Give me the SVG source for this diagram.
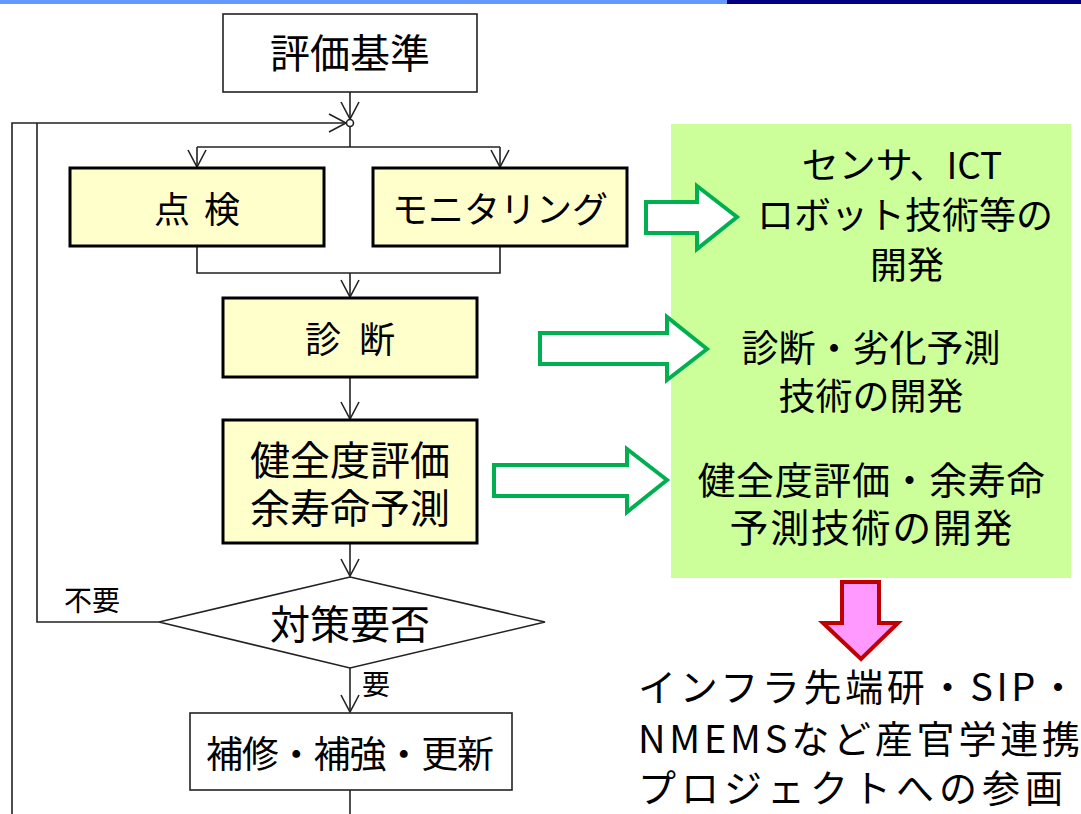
<svg xmlns="http://www.w3.org/2000/svg" width="1081" height="814" viewBox="0 0 1081 814">
<style>
text{font-family:"Noto Sans CJK JP","Noto Sans",sans-serif;fill:#000}
.c{text-anchor:middle}
.wbox{fill:#fff;stroke:#222;stroke-width:1.6}
.ybox{fill:#FFFFCC;stroke:#000;stroke-width:3}
.ln{fill:none;stroke:#222;stroke-width:1.6}
.ga{fill:#fff;stroke:#00B050;stroke-width:4}
.pa{fill:#FF99FF;stroke:#C00000;stroke-width:4}
</style>
<defs>
<marker id="v" viewBox="-19 -11 22 22" refX="0" refY="0" markerWidth="22" markerHeight="22" markerUnits="userSpaceOnUse" orient="auto">
<path d="M-17,-9 L0,0 L-17,9" fill="none" stroke="#222" stroke-width="1.6"/>
</marker>
</defs>
<rect x="0" y="0" width="727" height="4" fill="#6699FF"/>
<rect x="727" y="0" width="354" height="4" fill="#000080"/>

<g id="panel">
<rect x="671" y="124" width="400" height="454" fill="#CCFF99"/>
</g>

<g id="connectors">
<path class="ln" d="M350,92 V119" marker-end="url(#v)"/>
<path class="ln" d="M12,814 V123 H346" marker-end="url(#v)"/>
<path class="ln" d="M159,622 H37 V123"/>
<path class="ln" d="M350,126.5 V147"/>
<path class="ln" d="M197,147 H500"/>
<path class="ln" d="M197,147 V167" marker-end="url(#v)"/>
<path class="ln" d="M500,147 V167" marker-end="url(#v)"/>
<path class="ln" d="M197,247 V273 H500 V247"/>
<path class="ln" d="M350,273 V297" marker-end="url(#v)"/>
<path class="ln" d="M350,378 V419" marker-end="url(#v)"/>
<path class="ln" d="M350,544 V576" marker-end="url(#v)"/>
<path class="ln" d="M350,668 V712" marker-end="url(#v)"/>
<path class="ln" d="M350,790 V814"/>
</g>
<circle cx="350" cy="123" r="3.5" fill="#fff" stroke="#222" stroke-width="1.6"/>

<g id="kijun">
<rect class="wbox" x="223" y="14" width="254" height="78"/>
<text class="c" x="350" y="68" font-size="40">評価基準</text>
</g>
<g id="tenken">
<rect class="ybox" x="70" y="168" width="254" height="78"/>
<text class="c" x="197" y="223" font-size="36" textLength="86">点 検</text>
</g>
<g id="monitoring">
<rect class="ybox" x="373" y="168" width="254" height="78"/>
<text class="c" x="500" y="223" font-size="36">モニタリング</text>
</g>
<g id="shindan">
<rect class="ybox" x="223" y="298" width="254" height="79"/>
<text class="c" x="350" y="353" font-size="36" textLength="90">診 断</text>
</g>
<g id="kenzendo">
<rect class="ybox" x="223" y="420" width="254" height="123"/>
<text class="c" x="350" y="475" font-size="40">健全度評価</text>
<text class="c" x="350" y="523" font-size="40">余寿命予測</text>
</g>
<g id="taisaku">
<polygon class="wbox" points="350,577 545,622 350,668 159,622"/>
<text class="c" x="350" y="639" font-size="40">対策要否</text>
<text x="64" y="611" font-size="28">不要</text>
<text x="362" y="695" font-size="28">要</text>
</g>
<g id="hoshu">
<rect class="wbox" x="190" y="713" width="322" height="77"/>
<text class="c" x="350" y="768" font-size="37" textLength="288">補修・補強・更新</text>
</g>

<g id="arrow1"><polygon class="ga" points="646,202 697,202 697,186 737,217 697,249 697,233 646,233"/></g>
<g id="arrow2"><polygon class="ga" points="540,333 667,333 667,317 707,349 667,380 667,364 540,364"/></g>
<g id="arrow3"><polygon class="ga" points="494,465 627,465 627,449 667,480 627,512 627,496 494,496"/></g>

<g id="dev1">
<text class="c" x="902" y="179" font-size="37">センサ、ICT</text>
<text class="c" x="905" y="229" font-size="37">ロボット技術等の</text>
<text class="c" x="907" y="279" font-size="37">開発</text>
</g>
<g id="dev2">
<text class="c" x="871" y="362" font-size="37">診断・劣化予測</text>
<text class="c" x="871" y="410" font-size="37">技術の開発</text>
</g>
<g id="dev3">
<text class="c" x="871" y="494" font-size="38" textLength="347">健全度評価・余寿命</text>
<text class="c" x="871" y="542" font-size="39" textLength="283">予測技術の開発</text>
</g>

<g id="pinkarrow"><polygon class="pa" points="842,582 879,582 879,623 898,623 861,659 823,623 842,623"/></g>

<g id="project">
<text x="638" y="701" font-size="38" textLength="439">インフラ先端研・SIP・</text>
<text x="638" y="753" font-size="38" textLength="442">NMEMSなど産官学連携</text>
<text x="638" y="802" font-size="38" textLength="425">プロジェクトへの参画</text>
</g>
</svg>
